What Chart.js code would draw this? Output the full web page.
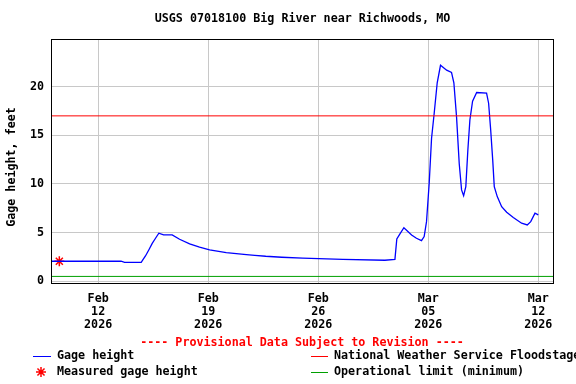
<!DOCTYPE html>
<html><head><meta charset="utf-8">
<script src="https://cdn.jsdelivr.net/npm/chart.js@4/dist/chart.umd.min.js"></script>
<style>html,body{margin:0;padding:0;background:#fff}canvas{display:block}</style>
</head><body>
<canvas id="c" width="576" height="384" style="width:576px;height:384px"></canvas>
<script>
// x values are days since 2026-02-09 00:00
const gageDays = [0, 4.46, 4.68, 5.74, 5.84, 6.01, 6.22, 6.44, 6.65, 6.86, 7.16, 7.71, 8.18, 8.82, 9.45, 10.09, 11.15, 12.43, 12.96, 13.66, 14.68, 16.01, 18.56, 21.24, 21.88, 22.0, 22.19, 22.45, 22.94, 23.25, 23.57, 23.74, 23.89, 24.06, 24.21, 24.38, 24.57, 24.78, 25.17, 25.48, 25.63, 25.80, 25.97, 26.12, 26.25, 26.39, 26.52, 26.65, 26.82, 27.08, 27.71, 27.84, 27.97, 28.10, 28.20, 28.39, 28.67, 28.99, 29.41, 29.94, 30.30, 30.52, 30.79, 31.0];
const gageHeight = [2.06, 2.06, 1.95, 1.95, 2.19, 2.6, 3.22, 3.9, 4.42, 4.94, 4.76, 4.76, 4.32, 3.84, 3.5, 3.22, 2.94, 2.74, 2.67, 2.57, 2.47, 2.37, 2.26, 2.16, 2.26, 4.35, 4.84, 5.51, 4.76, 4.42, 4.18, 4.59, 6.13, 10.08, 14.7, 17.3, 20.4, 22.2, 21.7, 21.46, 20.4, 16.9, 12.1, 9.39, 8.8, 9.73, 13.5, 16.6, 18.5, 19.4, 19.34, 18.3, 15.6, 12.5, 9.73, 8.7, 7.67, 7.1, 6.55, 5.97, 5.79, 6.13, 7.0, 6.82];
const measuredDays = [0.53];
const measuredHeight = [2.06];
const floodStage = 17;
const operationalLimit = 0.5;
const xRange = [0, 32];
const yTicks = [0, 5, 10, 15, 20];
const xTickDays = [3, 10, 17, 24, 31];
const xTickLabels = [["Feb","12","2026"],["Feb","19","2026"],["Feb","26","2026"],["Mar","05","2026"],["Mar","12","2026"]];
const titleText = "USGS 07018100 Big River near Richwoods, MO";
const yTitle = "Gage height, feet";
const provisionalText = "---- Provisional Data Subject to Revision ----";

const FONT = "'DejaVu Sans Mono', 'Liberation Mono', monospace";
const fontSpec = {family: FONT, size: 11.7, weight: 'bold', lineHeight: 1.12};

const pts = (xs, ys) => xs.map((x, i) => ({x, y: ys[i]}));

const decor = {
  id: 'decor',
  afterDraw(chart) {
    const ctx = chart.ctx, a = chart.chartArea;
    ctx.save();
    ctx.strokeStyle = '#000'; ctx.lineWidth = 1;
    ctx.strokeRect(Math.round(a.left) + 0.5, Math.round(a.top) + 0.5, Math.round(a.right - a.left) - 1, Math.round(a.bottom - a.top) - 1);
    ctx.font = "bold 11.7px " + FONT;
    ctx.fillStyle = '#000'; ctx.textBaseline = 'middle'; ctx.textAlign = 'center';
    ctx.fillText(titleText, (a.left + a.right) / 2, 19);
    ctx.save();
    ctx.translate(12, 167); ctx.rotate(-Math.PI / 2);
    ctx.fillText(yTitle, 0, 0);
    ctx.restore();
    ctx.fillStyle = '#ff0000';
    ctx.fillText(provisionalText, 302, 343);
    ctx.textAlign = 'left'; ctx.fillStyle = '#000';
    // legend
    const row1 = 356, row2 = 372;
    ctx.lineWidth = 1;
    ctx.strokeStyle = '#0000ff';
    ctx.beginPath(); ctx.moveTo(33, row1 + 0.5); ctx.lineTo(51, row1 + 0.5); ctx.stroke();
    ctx.fillText('Gage height', 57, row1);
    ctx.strokeStyle = '#ff0000';
    ctx.lineWidth = 1.5;
    const sx = 41, sy = row2, r = 5;
    ctx.beginPath();
    ctx.moveTo(sx - r, sy); ctx.lineTo(sx + r, sy);
    ctx.moveTo(sx, sy - r); ctx.lineTo(sx, sy + r);
    const d = r * 0.7071;
    ctx.moveTo(sx - d, sy - d); ctx.lineTo(sx + d, sy + d);
    ctx.moveTo(sx - d, sy + d); ctx.lineTo(sx + d, sy - d);
    ctx.stroke();
    ctx.lineWidth = 1;
    ctx.fillText('Measured gage height', 57, row2);
    ctx.strokeStyle = '#ff0000';
    ctx.beginPath(); ctx.moveTo(311, row1 + 0.5); ctx.lineTo(328, row1 + 0.5); ctx.stroke();
    ctx.fillText('National Weather Service Floodstage', 334, row1);
    ctx.strokeStyle = '#00a000';
    ctx.beginPath(); ctx.moveTo(311, row2 + 0.5); ctx.lineTo(328, row2 + 0.5); ctx.stroke();
    ctx.fillText('Operational limit (minimum)', 334, row2);
    ctx.restore();
  }
};

new Chart(document.getElementById('c'), {
  type: 'scatter',
  data: {
    datasets: [
      {data: pts(xRange, [operationalLimit, operationalLimit]), showLine: true, borderColor: '#00a000', borderWidth: 1, pointRadius: 0},
      {data: pts(xRange, [floodStage, floodStage]), showLine: true, borderColor: '#ff0000', borderWidth: 1, pointRadius: 0},
      {data: pts(gageDays, gageHeight), showLine: true, borderColor: '#0000ff', borderWidth: 1.3, pointRadius: 0, tension: 0},
      {data: pts(measuredDays, measuredHeight), showLine: false, pointStyle: 'star', pointRadius: 5, borderColor: '#ff0000', borderWidth: 1.5, backgroundColor: '#ff0000'}
    ]
  },
  options: {
    responsive: false, animation: false, devicePixelRatio: 1,
    layout: {padding: {left: 0, right: 22, top: 39, bottom: 0}},
    plugins: {legend: {display: false}, title: {display: false}, tooltip: {enabled: false}},
    scales: {
      x: {
        type: 'linear', min: xRange[0], max: xRange[1],
        afterBuildTicks: s => { s.ticks = xTickDays.map(v => ({value: v})); },
        afterFit: s => { s.height = 100; },
        ticks: {
          callback: v => { const i = xTickDays.indexOf(v); return i >= 0 ? xTickLabels[i] : ''; },
          font: {...fontSpec, lineHeight: 13 / 11.7}, color: '#000', padding: 8, maxRotation: 0, autoSkip: false
        },
        grid: {color: '#c8c8c8', drawTicks: false, lineWidth: 1},
        border: {display: false}
      },
      y: {
        min: -0.28, max: 24.9,
        afterBuildTicks: s => { s.ticks = yTicks.map(v => ({value: v})); },
        afterFit: s => { s.width = 51; },
        ticks: {font: fontSpec, color: '#000', padding: 7, autoSkip: false},
        grid: {color: '#c8c8c8', drawTicks: false, lineWidth: 1},
        border: {display: false}
      }
    }
  },
  plugins: [decor]
});
</script>
</body></html>
